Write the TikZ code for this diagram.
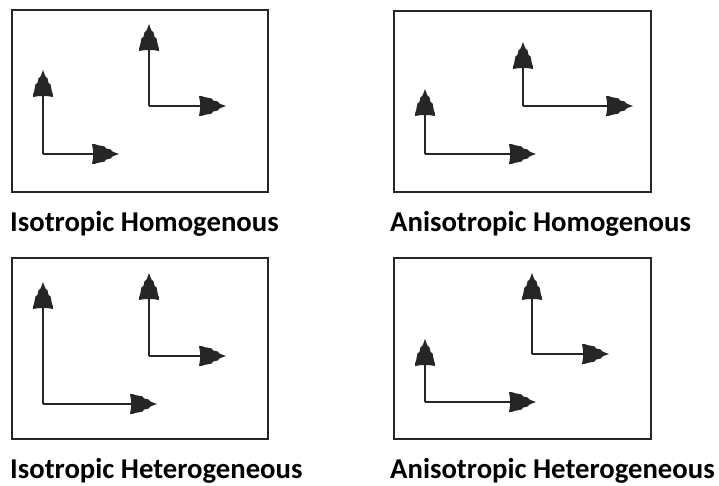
\documentclass[tikz,border=0pt]{standalone}
\usepackage{fontspec}
\setmainfont{Carlito}
\usetikzlibrary{arrows.meta}

% Stepped, fir-tree shaped arrow head used on the axis frames
\pgfdeclarearrow{
  name = FirTip,
  setup code = {
    \pgfarrowssettipend{0pt}
    \pgfarrowssetlineend{-20pt}
    \pgfarrowssetbackend{-27pt}
    \pgfarrowsupperhullpoint{0pt}{0pt}
    \pgfarrowsupperhullpoint{-27pt}{10pt}
  },
  drawing code = {
    \pgfpathmoveto{\pgfpointorigin}
    \pgfpathlineto{\pgfpoint{-5pt}{1.8pt}}
    \pgfpathlineto{\pgfpoint{-7pt}{2.8pt}}
    \pgfpathlineto{\pgfpoint{-8pt}{4.4pt}}
    \pgfpathlineto{\pgfpoint{-13pt}{5.6pt}}
    \pgfpathlineto{\pgfpoint{-14.5pt}{7.6pt}}
    \pgfpathlineto{\pgfpoint{-21pt}{8.8pt}}
    \pgfpathlineto{\pgfpoint{-24pt}{9.8pt}}
    \pgfpathlineto{\pgfpoint{-27pt}{10pt}}
    \pgfpathlineto{\pgfpoint{-26pt}{4pt}}
    \pgfpathlineto{\pgfpoint{-26pt}{-4pt}}
    \pgfpathlineto{\pgfpoint{-27pt}{-10pt}}
    \pgfpathlineto{\pgfpoint{-24pt}{-9.8pt}}
    \pgfpathlineto{\pgfpoint{-21pt}{-8.8pt}}
    \pgfpathlineto{\pgfpoint{-14.5pt}{-7.6pt}}
    \pgfpathlineto{\pgfpoint{-13pt}{-5.6pt}}
    \pgfpathlineto{\pgfpoint{-8pt}{-4.4pt}}
    \pgfpathlineto{\pgfpoint{-7pt}{-2.8pt}}
    \pgfpathlineto{\pgfpoint{-5pt}{-1.8pt}}
    \pgfpathclose
    \pgfusepathqfill
  }
}

\definecolor{ink}{HTML}{262626}

\tikzset{
  panel/.style={draw=ink, line width=2.6pt, fill=white},
  axis/.style={draw=ink, line width=2pt, -{FirTip}},
  caption/.style={anchor=base west, inner sep=0pt, font=\fontsize{28.7}{32}\selectfont\bfseries, text=black}
}

\begin{document}
\begin{tikzpicture}[x=1pt, y=-1pt]
  \useasboundingbox[fill=white] (0,0) rectangle (719,485);

  % ---- frames ----
  \draw[panel] (12,10) rectangle (268,192);
  \draw[panel] (394,11) rectangle (651,192);
  \draw[panel] (12,258) rectangle (268,439);
  \draw[panel] (394,258) rectangle (651,439);

  % ---- Isotropic Homogenous ----
  \coordinate (a1o) at (43,154);  \coordinate (a1v) at (43,70);   \coordinate (a1h) at (119,154);
  \coordinate (b1o) at (149,106); \coordinate (b1v) at (149,24);  \coordinate (b1h) at (226,106);
  \draw[axis] (a1o) -- (a1v);  \draw[axis] (a1o) -- (a1h);
  \draw[axis] (b1o) -- (b1v);  \draw[axis] (b1o) -- (b1h);

  % ---- Anisotropic Homogenous ----
  \coordinate (a2o) at (425,154); \coordinate (a2v) at (425,89);  \coordinate (a2h) at (536,154);
  \coordinate (b2o) at (523,106); \coordinate (b2v) at (523,42);  \coordinate (b2h) at (633,106);
  \draw[axis] (a2o) -- (a2v);  \draw[axis] (a2o) -- (a2h);
  \draw[axis] (b2o) -- (b2v);  \draw[axis] (b2o) -- (b2h);

  % ---- Isotropic Heterogeneous ----
  \coordinate (a3o) at (43,404);  \coordinate (a3v) at (43,282);  \coordinate (a3h) at (157,404);
  \coordinate (b3o) at (149,356); \coordinate (b3v) at (149,273); \coordinate (b3h) at (226,356);
  \draw[axis] (a3o) -- (a3v);  \draw[axis] (a3o) -- (a3h);
  \draw[axis] (b3o) -- (b3v);  \draw[axis] (b3o) -- (b3h);

  % ---- Anisotropic Heterogeneous ----
  \coordinate (a4o) at (425,402); \coordinate (a4v) at (425,339); \coordinate (a4h) at (536,402);
  \coordinate (b4o) at (532,354); \coordinate (b4v) at (532,273); \coordinate (b4h) at (609,354);
  \draw[axis] (a4o) -- (a4v);  \draw[axis] (a4o) -- (a4h);
  \draw[axis] (b4o) -- (b4v);  \draw[axis] (b4o) -- (b4h);

  % ---- captions ----
  \node[caption] (t1) at (10,231)  {Isotropic Homogenous};
  \node[caption] (t2) at (390,231) {Anisotropic Homogenous};
  \node[caption] (t3) at (10,478)  {Isotropic Heterogeneous};
  \node[caption] (t4) at (390,478) {Anisotropic Heterogeneous};
\end{tikzpicture}
\end{document}
